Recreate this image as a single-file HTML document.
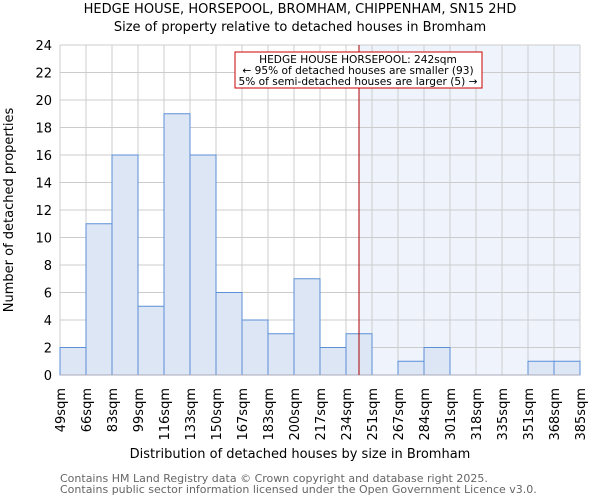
<!DOCTYPE html>
<html><head><meta charset="utf-8"><style>
body{margin:0;background:#fff;font-family:"DejaVu Sans","Liberation Sans",sans-serif;}
svg text{font-family:"DejaVu Sans","Liberation Sans",sans-serif;}
</style></head><body>
<svg id="chart" width="600" height="500">
<text x="300" y="13" text-anchor="middle" font-size="13">HEDGE HOUSE, HORSEPOOL, BROMHAM, CHIPPENHAM, SN15 2HD</text>
<text x="300" y="31" text-anchor="middle" font-size="13">Size of property relative to detached houses in Bromham</text>
<g id="plot"></g>
<text x="300" y="458" text-anchor="middle" font-size="13">Distribution of detached houses by size in Bromham</text>
<text transform="translate(13,210) rotate(-90)" text-anchor="middle" font-size="13">Number of detached properties</text>
<text x="60" y="482" font-size="11" fill="#666">Contains HM Land Registry data © Crown copyright and database right 2025.</text>
<text x="60" y="493" font-size="11" fill="#666">Contains public sector information licensed under the Open Government Licence v3.0.</text>
</svg>
<script>
const categories=["49sqm","66sqm","83sqm","99sqm","116sqm","133sqm","150sqm","167sqm","183sqm","200sqm","217sqm","234sqm","251sqm","267sqm","284sqm","301sqm","318sqm","335sqm","351sqm","368sqm","385sqm"];
const counts=[2,11,16,5,19,16,6,4,3,7,2,3,0,1,2,0,0,0,1,1];
const yTicks=[0,2,4,6,8,10,12,14,16,18,20,22,24];
const markerBin=11.5;
const X0=60,X1=580,Y0=375,Y1=45,YMAX=24;
const nb=counts.length,bw=(X1-X0)/nb;
const xs=i=>X0+i*bw;
const ys=v=>Y0-(v/YMAX)*(Y0-Y1);
const NS="http://www.w3.org/2000/svg";
const g=document.getElementById('plot');
function mk(t,a){const e=document.createElementNS(NS,t);for(const k in a)e.setAttribute(k,a[k]);g.appendChild(e);return e;}
const mx=xs(markerBin);
let e=mk('rect',{x:mx,y:Y1,width:X1-mx,height:Y0-Y1,fill:'#eef3fc'});


yTicks.forEach(v=>{
 let l=mk('line',{x1:X0,x2:X1,y1:ys(v),y2:ys(v),stroke:'#ccc','stroke-width':1});
 
 
 let t=mk('text',{x:X0-8,y:ys(v)+5,'text-anchor':'end','font-size':13});
 t.textContent=v;
 
 
});
categories.forEach((c,i)=>{
 let l=mk('line',{x1:xs(i),x2:xs(i),y1:Y1,y2:Y0,stroke:'#ccc','stroke-width':1});
 
 
 let t=mk('text',{transform:`translate(${xs(i)+5},${Y0+13}) rotate(-90)`,'text-anchor':'end','font-size':13});
 t.textContent=c;
 
 
});
counts.forEach((v,i)=>{
 if(v<=0)return;
 let r=mk('rect',{x:xs(i),y:ys(v),width:bw,height:Y0-ys(v),fill:'#dce6f4',stroke:'#5b8fd6','stroke-width':1});
 
 
});
e=mk('line',{x1:X0,x2:X1,y1:Y0,y2:Y0,stroke:'#aab','stroke-width':1});


e=mk('line',{x1:mx,x2:mx,y1:Y1,y2:Y0,stroke:'#a00','stroke-width':1});


e=mk('rect',{x:235,y:52,width:247,height:36,fill:'#fff',stroke:'#c00','stroke-width':1});


["HEDGE HOUSE HORSEPOOL: 242sqm","← 95% of detached houses are smaller (93)","5% of semi-detached houses are larger (5) →"].forEach((s,k)=>{
 let t=mk('text',{x:358,y:63+k*11,'text-anchor':'middle','font-size':10.6});
 t.textContent=s;
 
 
});
</script>
</body></html>
